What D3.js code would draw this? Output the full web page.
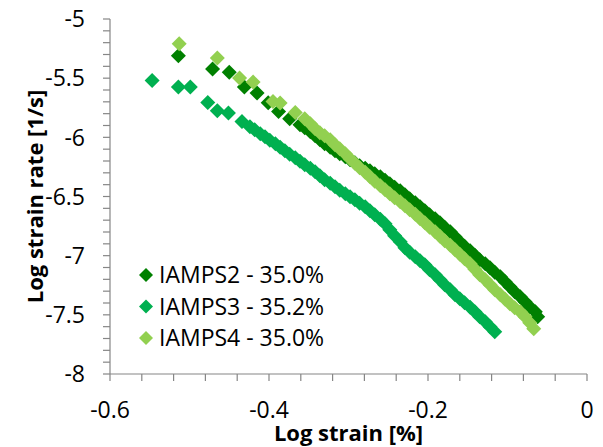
<!DOCTYPE html>
<html lang="en">
<head>
  <meta charset="UTF-8" />
  <title>Log strain rate vs log strain</title>
  <script src="https://d3js.org/d3.v7.min.js"></script>
  <style>
    body { margin: 0; background: white; font-family: "Open Sans", sans-serif; }
    .axis-line { stroke: #868686; stroke-width: 1.2; }
    .tick-label { font-size: 23px; fill: #000; }
    .axis-title { font-size: 22px; font-weight: bold; fill: #000; }
    .legend-label { font-size: 23px; fill: #000; }
  </style>
</head>
<body>
  <svg id="chart" width="603" height="447"></svg>

  <script>
    // [log strain, log strain rate]
    const iamps2 = [
      [-0.514,-5.310],[-0.471,-5.423],[-0.450,-5.451],[-0.431,-5.575],[-0.415,-5.626],
      [-0.401,-5.708],[-0.388,-5.781],[-0.374,-5.843],[-0.361,-5.894],[-0.355,-5.919],
      [-0.348,-5.953],[-0.342,-5.987],[-0.336,-6.020],[-0.330,-6.054],[-0.323,-6.084],
      [-0.317,-6.113],[-0.311,-6.139],[-0.304,-6.164],[-0.298,-6.189],[-0.292,-6.215],
      [-0.286,-6.240],[-0.279,-6.261],[-0.273,-6.282],[-0.267,-6.308],[-0.260,-6.333],
      [-0.254,-6.363],[-0.248,-6.392],[-0.242,-6.422],[-0.235,-6.451],[-0.229,-6.485],
      [-0.223,-6.519],[-0.216,-6.553],[-0.210,-6.587],[-0.204,-6.621],[-0.198,-6.654],
      [-0.191,-6.688],[-0.185,-6.722],[-0.179,-6.760],[-0.172,-6.798],[-0.166,-6.840],
      [-0.160,-6.883],[-0.154,-6.921],[-0.147,-6.959],[-0.141,-6.997],[-0.135,-7.035],
      [-0.128,-7.069],[-0.122,-7.102],[-0.116,-7.140],[-0.109,-7.178],[-0.103,-7.221],
      [-0.097,-7.263],[-0.091,-7.305],[-0.084,-7.347],[-0.078,-7.390],[-0.072,-7.432],
      [-0.065,-7.474],[-0.062,-7.517]
    ];
    const iamps3 = [
      [-0.547,-5.519],[-0.514,-5.575],[-0.499,-5.575],[-0.477,-5.705],[-0.465,-5.775],
      [-0.451,-5.795],[-0.434,-5.866],[-0.424,-5.910],[-0.418,-5.936],[-0.411,-5.970],
      [-0.405,-5.995],[-0.399,-6.025],[-0.392,-6.054],[-0.386,-6.084],[-0.380,-6.113],
      [-0.374,-6.143],[-0.367,-6.172],[-0.361,-6.202],[-0.355,-6.232],[-0.348,-6.261],
      [-0.342,-6.291],[-0.336,-6.325],[-0.330,-6.358],[-0.323,-6.388],[-0.317,-6.418],
      [-0.311,-6.447],[-0.304,-6.477],[-0.298,-6.502],[-0.292,-6.527],[-0.286,-6.557],
      [-0.279,-6.587],[-0.273,-6.621],[-0.267,-6.654],[-0.260,-6.692],[-0.254,-6.730],
      [-0.248,-6.781],[-0.242,-6.832],[-0.235,-6.883],[-0.229,-6.933],[-0.223,-6.971],
      [-0.216,-7.009],[-0.210,-7.043],[-0.204,-7.077],[-0.198,-7.119],[-0.191,-7.162],
      [-0.185,-7.204],[-0.179,-7.246],[-0.172,-7.288],[-0.166,-7.331],[-0.160,-7.364],
      [-0.154,-7.398],[-0.147,-7.436],[-0.141,-7.474],[-0.135,-7.517],[-0.128,-7.559],
      [-0.122,-7.601],[-0.116,-7.643]
    ];
    const iamps4 = [
      [-0.513,-5.209],[-0.465,-5.330],[-0.437,-5.499],[-0.420,-5.533],[-0.395,-5.697],
      [-0.386,-5.710],[-0.367,-5.790],[-0.355,-5.843],[-0.348,-5.885],[-0.342,-5.927],
      [-0.336,-5.961],[-0.330,-5.987],[-0.323,-6.020],[-0.317,-6.063],[-0.311,-6.096],
      [-0.304,-6.139],[-0.298,-6.181],[-0.292,-6.219],[-0.286,-6.257],[-0.279,-6.295],
      [-0.273,-6.333],[-0.267,-6.371],[-0.260,-6.409],[-0.254,-6.443],[-0.248,-6.477],
      [-0.242,-6.511],[-0.235,-6.544],[-0.229,-6.578],[-0.223,-6.612],[-0.216,-6.650],
      [-0.210,-6.688],[-0.204,-6.722],[-0.198,-6.760],[-0.191,-6.798],[-0.185,-6.836],
      [-0.179,-6.874],[-0.172,-6.912],[-0.166,-6.950],[-0.160,-6.988],[-0.154,-7.026],
      [-0.147,-7.069],[-0.141,-7.115],[-0.135,-7.162],[-0.128,-7.204],[-0.122,-7.246],
      [-0.116,-7.288],[-0.109,-7.331],[-0.103,-7.369],[-0.097,-7.407],[-0.091,-7.440],
      [-0.084,-7.474],[-0.078,-7.517],[-0.072,-7.566],[-0.067,-7.618]
    ];

    const seriesNames = ["IAMPS2 - 35.0%", "IAMPS3 - 35.2%", "IAMPS4 - 35.0%"];
    const seriesColors = ["#008000", "#00b050", "#92d050"];
    const xTicks = [-0.6, -0.4, -0.2, 0];
    const yTicks = [-8, -7.5, -7, -6.5, -6, -5.5, -5];

    const svg = d3.select("#chart");
    const margin = { top: 19, right: 16, bottom: 73, left: 110 };
    const width = 603, height = 447;

    const x = d3.scaleLinear().domain([-0.6, 0]).range([margin.left, width - margin.right]);
    const y = d3.scaleLinear().domain([-8, -5]).range([height - margin.bottom, margin.top]);

    // y axis: line, minor + major ticks, labels
    const yMinor = d3.range(-8, -4.99, 0.1);
    svg.append("line").attr("class", "axis-line")
      .attr("x1", x(-0.6)).attr("x2", x(-0.6))
      .attr("y1", y(-8)).attr("y2", y(-5));
    svg.selectAll(".ytick").data(yMinor).join("line").attr("class", "axis-line")
      .attr("x1", x(-0.6) - 7).attr("x2", x(-0.6))
      .attr("y1", d => y(d)).attr("y2", d => y(d));
    svg.selectAll(".ylab").data(yTicks).join("text").attr("class", "tick-label")
      .attr("x", 85).attr("y", d => y(d)).attr("dy", "0.36em")
      .attr("text-anchor", "end").text(d => d);

    // x axis
    const xMinor = d3.range(-0.6, 0.001, 0.04);
    svg.append("line").attr("class", "axis-line")
      .attr("x1", x(-0.6)).attr("x2", x(0))
      .attr("y1", y(-8)).attr("y2", y(-8));
    svg.selectAll(".xtick").data(xMinor).join("line").attr("class", "axis-line")
      .attr("x1", d => x(d)).attr("x2", d => x(d))
      .attr("y1", y(-8)).attr("y2", y(-8) + 7);
    svg.selectAll(".xlab").data(xTicks).join("text").attr("class", "tick-label")
      .attr("x", d => x(d)).attr("y", 418)
      .attr("text-anchor", "middle").text(d => d);

    // titles
    svg.append("text").attr("class", "axis-title")
      .attr("x", (x(-0.6) + x(0)) / 2).attr("y", 441)
      .attr("text-anchor", "middle").text("Log strain [%]");
    svg.append("text").attr("class", "axis-title")
      .attr("transform", `translate(43,${(y(-8) + y(-5)) / 2}) rotate(-90)`)
      .attr("text-anchor", "middle").text("Log strain rate [1/s]");

    // markers
    const r = 7.5;
    const diamond = `M0,${-r}L${r},0L0,${r}L${-r},0Z`;
    [iamps2, iamps3, iamps4].forEach((data, i) => {
      svg.append("g").selectAll("path").data(data).join("path")
        .attr("d", diamond)
        .attr("transform", d => `translate(${x(d[0])},${y(d[1])})`)
        .attr("fill", seriesColors[i]);
    });

    // legend
    const legend = svg.append("g").attr("transform", "translate(146,275)");
    const item = legend.selectAll("g").data(seriesNames).join("g")
      .attr("transform", (d, i) => `translate(0,${i * 31.5})`);
    item.append("path").attr("d", `M0,-7L7,0L0,7L-7,0Z`)
      .attr("fill", (d, i) => seriesColors[i]);
    item.append("text").attr("class", "legend-label")
      .attr("x", 13).attr("dy", "0.36em").text(d => d);
  </script>
</body>
</html>
